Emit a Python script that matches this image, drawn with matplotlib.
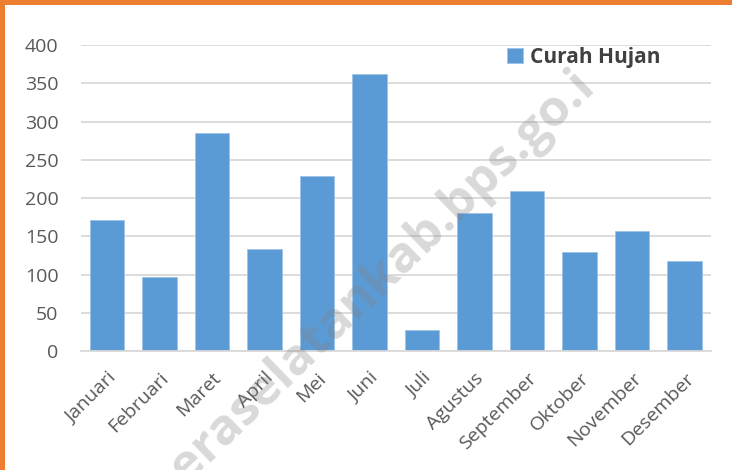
import math
import matplotlib
matplotlib.use("Agg")
import matplotlib.pyplot as plt
from matplotlib.patches import Rectangle

# data
bulan = ["Januari", "Februari", "Maret", "April", "Mei", "Juni", "Juli",
         "Agustus", "September", "Oktober", "November", "Desember"]
curah_hujan = [171, 97, 285, 133, 229, 362, 27, 181, 209, 130, 157, 118]
y_ticks = [0, 50, 100, 150, 200, 250, 300, 350, 400]
watermark = "halmaheraselatankab.bps.go.i"   # visible part of the watermark

plt.rcParams['font.family'] = ['Open Sans', 'DejaVu Sans']

W, H = 732, 470
fig = plt.figure(figsize=(W / 100, H / 100), dpi=100)
ax = fig.add_axes([0.1102, 0.2532, 0.8608, 0.6508])

x = list(range(len(bulan)))
ax.bar(x, curah_hujan, width=0.66, color='#5B9BD5',
       edgecolor='#9DC3E6', linewidth=0.6, label='Curah Hujan', zorder=2)

ax.set_xlim(-0.5, len(bulan) - 0.5)
ax.set_ylim(0, 400)
ax.set_yticks(y_ticks)
ax.set_xticks(x)
ax.set_xticklabels(bulan, rotation=45, ha='right', va='top', rotation_mode='anchor')
ax.grid(axis='y', color='#d9d9d9', linewidth=1.3, zorder=0)
ax.set_axisbelow(True)
for side in ['top', 'right', 'left']:
    ax.spines[side].set_visible(False)
ax.spines['bottom'].set_color('#d9d9d9')
ax.spines['bottom'].set_linewidth(1.3)
ax.tick_params(axis='both', length=0, labelsize=14, labelcolor='#595959')
ax.tick_params(axis='y', pad=16)
ax.tick_params(axis='x', pad=13)

leg = ax.legend(loc='center left', bbox_to_anchor=(507 / W, 1 - 57 / H),
                bbox_transform=fig.transFigure, frameon=False, borderpad=0,
                borderaxespad=0, handlelength=0.75, handleheight=0.75,
                handletextpad=0.35, prop={'weight': 'bold', 'size': 15})
for t in leg.get_texts():
    t.set_color('#404040')

# watermark, sized and placed so its letters fall where they do in the reference
renderer = fig.canvas.get_renderer()


def text_width(s, size):
    t = fig.text(0, 0, s, fontsize=size, fontweight='bold')
    w = t.get_window_extent(renderer).width
    t.remove()
    return w


ref_size = 30
span = text_width("eraselatankab.bps.go", ref_size) - text_width("e", ref_size) / 2 \
    - text_width("o", ref_size) / 2
wm_size = ref_size * 509 / span
ang = math.radians(44)
dx, dy = math.cos(ang), math.sin(ang)
e_cx, e_cy = 187, H - 463          # centre of the first visible "e", pixels from bottom-left
half_e = text_width("e", wm_size) / 2
xh = 0.535 * wm_size * 100 / 72 / 2
ex = e_cx - half_e * dx + xh * dy
ey = e_cy - half_e * dy - xh * dx
lead = text_width("halmah", wm_size)
sx, sy = ex - lead * dx, ey - lead * dy
fig.text(sx / W, sy / H, watermark, rotation=44, rotation_mode='anchor',
         ha='left', va='baseline', fontsize=wm_size, fontweight='bold',
         color='#808080', alpha=0.3, zorder=5)

# orange border on top and left
fig.patches.append(Rectangle((0, 1 - 5 / H), 1, 5 / H, transform=fig.transFigure,
                             facecolor='#ED7D31', edgecolor='none', zorder=10))
fig.patches.append(Rectangle((0, 0), 4.5 / W, 1, transform=fig.transFigure,
                             facecolor='#ED7D31', edgecolor='none', zorder=10))

fig.savefig("out.png", dpi=100)
